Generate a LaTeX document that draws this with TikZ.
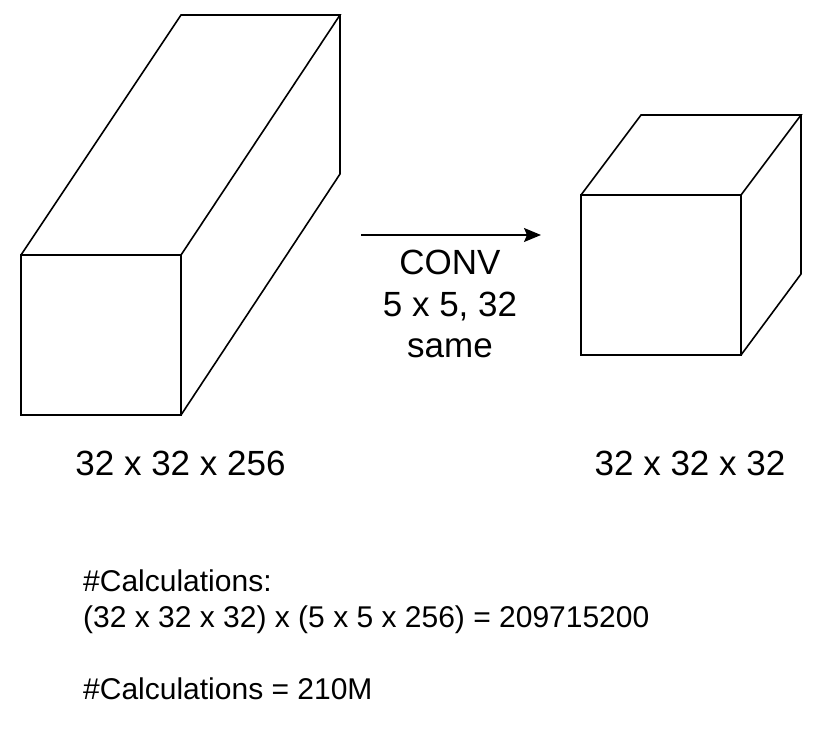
\documentclass[tikz,border=0pt]{standalone}
\usepackage{fontspec}
\setmainfont{Liberation Sans}
\usetikzlibrary{arrows.meta}
\begin{document}
\begin{tikzpicture}[x=1pt,y=-1pt,
  edge/.style={line width=1.6pt,line join=miter},
  conn/.style={line width=1.6pt,-{Stealth[length=17pt,width=14pt,inset=3pt]}},
  bigtxt/.style={font=\fontsize{35}{41.5}\selectfont,inner sep=0pt,align=center},
  calctxt/.style={font=\fontsize{30}{36}\selectfont,inner sep=0pt,align=left}]
\useasboundingbox (0,0) rectangle (818,736);
% first block
\coordinate (a1) at (21,255);
\coordinate (a2) at (181,255);
\coordinate (a3) at (181,415);
\coordinate (a4) at (21,415);
\coordinate (a5) at (181,15);
\coordinate (a6) at (340,15);
\coordinate (a7) at (340,174);
\draw[edge] (a1) -- (a2) -- (a3) -- (a4) -- cycle;
\draw[edge] (a1) -- (a5) -- (a6) -- (a2);
\draw[edge] (a6) -- (a7) -- (a3);
% second block
\coordinate (b1) at (581,195);
\coordinate (b2) at (741,195);
\coordinate (b3) at (741,355);
\coordinate (b4) at (581,355);
\coordinate (b5) at (641,115);
\coordinate (b6) at (801,115);
\coordinate (b7) at (801,274);
\draw[edge] (b1) -- (b2) -- (b3) -- (b4) -- cycle;
\draw[edge] (b1) -- (b5) -- (b6) -- (b2);
\draw[edge] (b6) -- (b7) -- (b3);
% arrow
\coordinate (s) at (361,235);
\coordinate (t) at (541,235);
\draw[conn] (s) -- (t);
\node[bigtxt] (conv) at (450,304) {CONV\\5 x 5, 32\\same};
% labels
\node[bigtxt,anchor=base] (la) at (180.5,475) {32 x 32 x 256};
\node[bigtxt,anchor=base] (lb) at (690,475) {32 x 32 x 32};
\node[calctxt,anchor=north west] (calc) at (83,570) {\#Calculations:\\(32 x 32 x 32) x (5 x 5 x 256) = 209715200\\[0pt]\\\#Calculations = 210M};
\end{tikzpicture}
\end{document}
